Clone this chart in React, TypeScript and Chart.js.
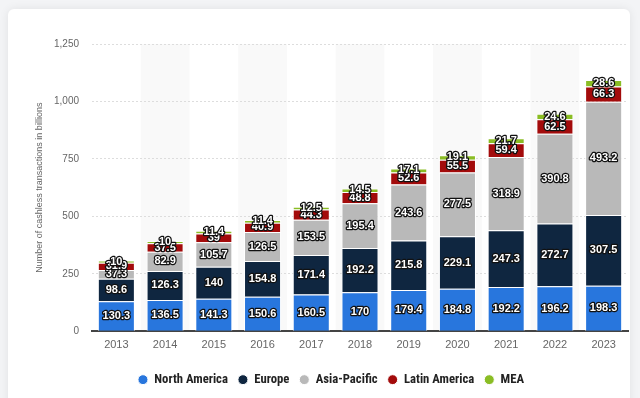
import React, { useEffect, useRef } from "react";
import { Chart, registerables } from "chart.js";

Chart.register(...registerables);

const years = ["2013", "2014", "2015", "2016", "2017", "2018", "2019", "2020", "2021", "2022", "2023"];
const northAmerica = [130.3, 136.5, 141.3, 150.6, 160.5, 170, 179.4, 184.8, 192.2, 196.2, 198.3];
const europe = [98.6, 126.3, 140, 154.8, 171.4, 192.2, 215.8, 229.1, 247.3, 272.7, 307.5];
const asiaPacific = [37.3, 82.9, 105.7, 126.5, 153.5, 195.4, 243.6, 277.5, 318.9, 390.8, 493.2];
const latinAmerica = [31.9, 37.5, 39, 40.9, 44.3, 48.8, 52.6, 55.5, 59.4, 62.5, 66.3];
const mea = [10, 10, 11.4, 11.4, 12.5, 14.5, 17.1, 19.1, 21.7, 24.6, 28.6];
const yTicks = [0, 250, 500, 750, 1000, 1250];

const bandPlugin = {
  id: "bands",
  beforeDraw(chart: any) {
    const { ctx, chartArea } = chart;
    const xs = chart.scales.x;
    const n = years.length;
    const w = (chartArea.right - chartArea.left) / n;
    ctx.save();
    ctx.fillStyle = "#f9f9f9";
    for (let i = 1; i < n; i += 2) {
      const cx = xs.getPixelForValue(i);
      ctx.fillRect(cx - w / 2, chartArea.top, w, chartArea.bottom - chartArea.top);
    }
    ctx.restore();
  },
};

const labelPlugin = {
  id: "segLabels",
  afterDatasetsDraw(chart: any) {
    const ctx = chart.ctx;
    ctx.save();
    ctx.font = 'bold 11px "Liberation Sans", Arial, sans-serif';
    ctx.textAlign = "center";
    ctx.textBaseline = "middle";
    ctx.lineJoin = "round";
    chart.data.datasets.forEach((ds: any, di: number) => {
      const meta = chart.getDatasetMeta(di);
      meta.data.forEach((el: any, i: number) => {
        const v = ds.data[i];
        const p = el.getProps(["x", "y", "base"], true);
        const cy = (p.y + p.base) / 2;
        const txt = String(v);
        ctx.strokeStyle = "#111";
        ctx.lineWidth = 2.5;
        ctx.strokeText(txt, p.x, cy);
        ctx.fillStyle = "#fff";
        ctx.fillText(txt, p.x, cy);
      });
    });
    ctx.restore();
  },
};

export default function App() {
  const ref = useRef<HTMLCanvasElement>(null);
  useEffect(() => {
    document.body.style.margin = "0";
    const mk = (label: string, data: number[], color: string) => ({
      label,
      data,
      backgroundColor: color,
      borderColor: "#ffffff",
      borderWidth: 1,
      borderSkipped: "start",
      categoryPercentage: 1,
      barPercentage: 0.76,
    });
    const chart = new Chart(ref.current!, {
      type: "bar",
      data: {
        labels: years,
        datasets: [
          mk("North America", northAmerica, "#2876dd"),
          mk("Europe", europe, "#0f2640"),
          mk("Asia-Pacific", asiaPacific, "#b9b9b9"),
          mk("Latin America", latinAmerica, "#a30b0b"),
          mk("MEA", mea, "#8abd24"),
        ] as any,
      },
      options: {
        responsive: false,
        animation: false,
        layout: { padding: { left: 34, right: 12, top: 44, bottom: 2 } },
        plugins: {
          tooltip: { enabled: false },
          legend: {
            position: "bottom",
            labels: {
              usePointStyle: true,
              pointStyle: "circle",
              boxHeight: 7,
              boxWidth: 10,
              pointStyleWidth: 10,
              padding: 10,
              color: "#222",
              font: { family: '"Liberation Sans Narrow", "Roboto Condensed", Arial, sans-serif', size: 12.7, weight: "bold" },
            },
          },
        },
        scales: {
          x: {
            stacked: true,
            grid: { display: false, drawTicks: false },
            border: { display: true, color: "#444", width: 2 },
            ticks: { color: "#666", padding: 7, font: { family: '"Liberation Sans", Arial, sans-serif', size: 11 } },
            afterFit: (s: any) => { s.height = 32; },
          },
          y: {
            stacked: true,
            min: 0,
            max: 1250,
            afterBuildTicks: (s: any) => { s.ticks = yTicks.map((v) => ({ value: v })); },
            grid: { color: "#dddddd", drawTicks: false, lineWidth: 1 },
            border: { display: false, dash: [2, 2] },
            ticks: {
              color: "#666",
              padding: 13,
              font: { family: '"Liberation Sans", Arial, sans-serif', size: 10 },
              callback: (v: any) => Number(v).toLocaleString("en-US"),
            },
            title: {
              display: true,
              text: "Number of cashless transactions in billions",
              color: "#666",
              padding: 0,
              font: { family: '"Liberation Sans", Arial, sans-serif', size: 9 },
            },
            afterFit: (s: any) => { s.width = 58; },
          },
        },
      },
      plugins: [bandPlugin, labelPlugin],
    } as any);
    return () => chart.destroy();
  }, []);
  return (
    <div style={{ position: "fixed", left: 0, top: 0, width: 640, height: 398, background: "#f3f4f6", overflow: "hidden" }}>
      <div style={{ position: "absolute", left: 8, top: 9, width: 622, height: 420, background: "#fff", borderRadius: 6, boxShadow: "0 0 10px rgba(0,0,0,0.08)" }} />
      <canvas ref={ref} width={640} height={398} style={{ position: "absolute", left: 0, top: 0 }} />
    </div>
  );
}
